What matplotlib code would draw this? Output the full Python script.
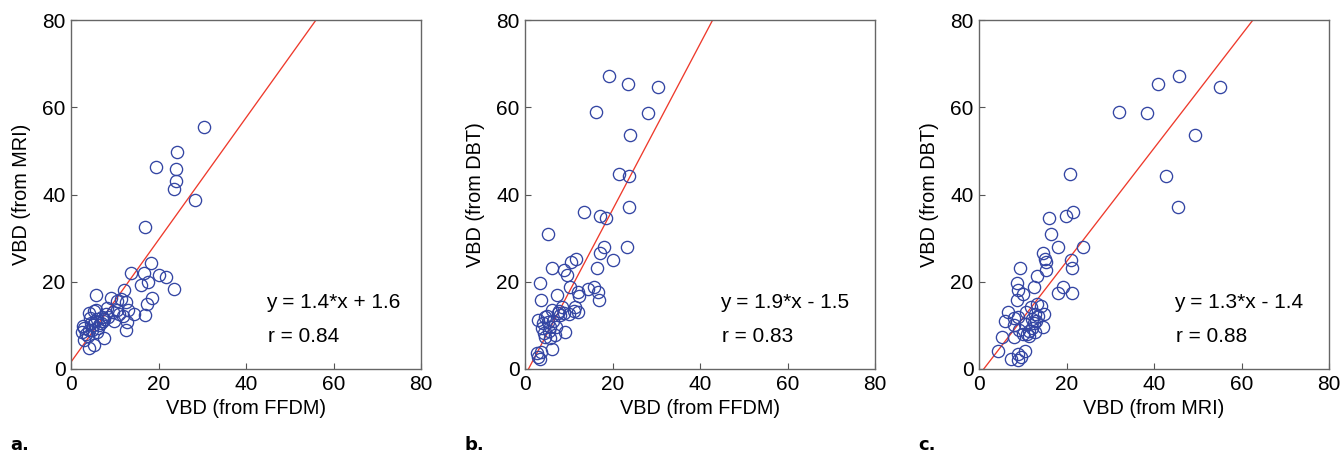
import numpy as np
import matplotlib
matplotlib.use("Agg")
import matplotlib.pyplot as plt

plt.rcParams['font.family'] = ['Liberation Sans', 'DejaVu Sans']

# a. VBD FFDM (x) vs VBD MRI (y)
a_x = [30.5, 24.2, 19.5, 24.0, 23.9, 23.6, 28.4, 16.8, 18.2, 13.8, 16.7, 20.1, 21.6,
       17.6, 15.9, 23.5, 12.1, 5.7, 18.6, 17.4, 17.0, 14.4, 12.5, 11.5, 9.1, 10.6,
       12.5, 12.9, 7.6, 4.2, 5.3, 3.0, 3.0, 2.5, 4.0, 5.0, 6.0, 7.0, 8.0, 9.5,
       10.5, 11.8, 3.5, 4.5, 5.5, 6.5, 7.5, 8.5, 4.0, 5.2, 6.2, 7.2, 2.8, 3.8,
       4.8, 6.0, 9.8, 11.0, 13.0, 8.2, 5.8, 4.3, 6.8]
a_y = [55.5, 49.7, 46.2, 45.9, 43.2, 41.3, 38.8, 32.5, 24.2, 21.9, 22.0, 21.5, 21.1,
       20.0, 19.2, 18.4, 18.1, 16.9, 16.2, 15.0, 12.3, 12.7, 15.4, 16.0, 16.2, 15.5,
       8.9, 10.8, 7.0, 4.7, 5.5, 6.6, 9.3, 8.5, 9.0, 10.0, 11.5, 12.0, 12.5, 13.0,
       13.5, 12.2, 8.0, 10.5, 11.0, 10.0, 11.5, 12.0, 12.8, 13.2, 9.5, 11.0, 9.8, 7.5,
       9.0, 8.5, 11.0, 12.5, 13.5, 14.0, 13.5, 11.8, 10.5]

# b. VBD FFDM (x) vs VBD DBT (y)
b_x = [19.2, 23.5, 30.4, 16.3, 28.1, 24.1, 21.4, 23.7, 23.7, 13.5, 17.1, 18.4, 5.3,
       23.3, 18.1, 17.2, 20.0, 11.6, 10.6, 6.2, 8.9, 9.6, 16.5, 3.4, 10.3, 15.7,
       14.3, 16.7, 16.9, 12.1, 12.3, 7.4, 3.6, 11.4, 12.1, 11.2, 8.4, 6.1, 9.0,
       7.6, 3.0, 4.6, 5.2, 3.8, 5.6, 7.0, 9.1, 6.9, 4.6, 5.8, 6.1, 2.7, 3.6, 3.4,
       3.0, 4.0, 5.0, 6.5, 8.0, 4.4, 5.4, 7.8, 10.0]
b_y = [67.2, 65.4, 64.7, 59.0, 58.7, 53.7, 44.6, 44.2, 37.1, 35.9, 35.0, 34.7, 30.9,
       28.0, 28.0, 26.7, 24.9, 25.3, 24.5, 23.2, 22.6, 21.5, 23.2, 19.6, 18.8, 18.7,
       18.3, 17.7, 15.8, 17.7, 16.8, 16.9, 15.8, 14.2, 13.0, 13.4, 14.2, 13.5, 12.8,
       12.8, 11.2, 11.9, 10.8, 9.3, 9.6, 9.6, 8.5, 7.8, 7.4, 7.0, 4.5, 3.6, 3.9, 2.2,
       2.8, 10.5, 12.2, 11.0, 12.3, 8.2, 8.8, 13.2, 12.5]

# c. VBD MRI (x) vs VBD DBT (y)
c_x = [45.6, 41.0, 55.0, 32.1, 38.3, 49.3, 20.7, 42.8, 45.4, 15.9, 19.8, 21.5, 16.4,
       23.8, 18.1, 14.6, 15.0, 15.4, 21.1, 21.3, 9.3, 15.2, 13.3, 8.6, 12.6, 8.8,
       19.1, 18.0, 21.3, 10.1, 8.6, 13.2, 11.8, 14.2, 14.8, 12.8, 6.7, 8.9, 6.0,
       7.9, 10.5, 12.5, 14.7, 11.4, 12.8, 5.2, 7.9, 10.0, 11.5, 4.4, 7.4, 8.8, 9.0,
       10.5, 9.5, 12.0, 13.5, 10.8, 9.2, 11.0, 13.0, 12.2, 8.0]
c_y = [67.2, 65.4, 64.7, 59.0, 58.7, 53.7, 44.6, 44.2, 37.1, 34.7, 35.0, 35.9, 30.9,
       28.0, 28.0, 26.7, 25.3, 24.5, 24.9, 23.2, 23.2, 22.6, 21.3, 19.6, 18.7, 18.2,
       18.7, 17.5, 17.5, 17.3, 15.8, 14.8, 14.2, 14.5, 12.7, 12.7, 13.1, 12.0, 11.0,
       10.0, 10.3, 10.6, 9.6, 8.8, 8.4, 7.4, 7.4, 8.0, 7.6, 4.2, 2.4, 2.0, 3.4, 4.2,
       2.8, 11.5, 12.2, 13.0, 9.0, 8.0, 11.0, 9.4, 11.8]

# régression : (pente, ordonnée à l'origine)
fits = [(1.4, 1.6), (1.9, -1.5), (1.3, -1.4)]
eq_text = ['y = 1.4*x + 1.6', 'y = 1.9*x - 1.5', 'y = 1.3*x - 1.4']
r_text = ['r = 0.84', 'r = 0.83', 'r = 0.88']
xlabels = ['VBD (from FFDM)', 'VBD (from FFDM)', 'VBD (from MRI)']
ylabels = ['VBD (from MRI)', 'VBD (from DBT)', 'VBD (from DBT)']
panel_tags = ['a.', 'b.', 'c.']
ticks = [0, 20, 40, 60, 80]

fig = plt.figure(figsize=(13.4, 4.54), dpi=100)
lefts = [71, 525, 979]
data = [(a_x, a_y), (b_x, b_y), (c_x, c_y)]

for i in range(3):
    ax = fig.add_axes([lefts[i] / 1340, (454 - 369) / 454, 350 / 1340, 349 / 454])
    xs, ys = data[i]
    ax.plot(xs, ys, 'o', mfc='none', mec='#3345a3', ms=8.8, mew=0.95, zorder=3)
    m, b = fits[i]
    xl = np.array([0, 80])
    ax.plot(xl, m * xl + b, color='#ee3a2c', lw=0.95, zorder=2)
    ax.set_xlim(0, 80)
    ax.set_ylim(0, 80)
    ax.set_xticks(ticks)
    ax.set_yticks(ticks)
    ax.tick_params(direction='in', length=4, width=0.8, labelsize=15, color='#555555', pad=4)
    for s in ax.spines.values():
        s.set_color('#666666')
        s.set_linewidth(1.0)
    ax.set_xlabel(xlabels[i], fontsize=14.3, labelpad=4)
    ax.set_ylabel(ylabels[i], fontsize=14.3, labelpad=8)
    ax.text(44.6, 15.2, eq_text[i], fontsize=15, va='center')
    ax.text(45.0, 7.4, r_text[i], fontsize=15, va='center')
    fig.text((lefts[i] - 61) / 1340, 1 - 445 / 454, panel_tags[i], fontsize=13,
             fontweight='bold', fontfamily='Liberation Sans Narrow', va='center')

fig.savefig('out.png', dpi=100)
